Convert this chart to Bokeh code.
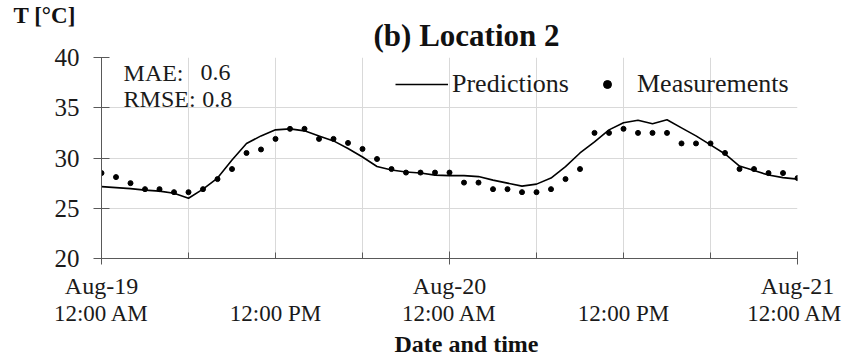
from bokeh.plotting import figure
from bokeh.models import Range1d, FixedTicker, LinearAxis, Legend, LegendItem, Label, Title
from bokeh.embed import file_html
from bokeh.resources import INLINE

hours = list(range(49))
measured = [28.5, 28.1, 27.5, 26.9, 26.9, 26.6, 26.6, 26.9, 27.9, 28.9,
            30.5, 30.85, 31.9, 32.9, 32.9, 31.9, 31.9, 31.5, 30.9, 29.9,
            28.9, 28.55, 28.55, 28.55, 28.55, 27.55, 27.55, 26.9, 26.9, 26.6,
            26.6, 26.9, 27.9, 28.9, 32.5, 32.5, 32.9, 32.5, 32.5, 32.5,
            31.45, 31.45, 31.45, 30.5, 28.9, 28.9, 28.5, 28.5, 28.0]
predicted = [27.15, 27.05, 26.95, 26.8, 26.7, 26.5, 26.0, 26.9, 28.0, 29.8,
             31.45, 32.2, 32.8, 32.9, 32.7, 32.2, 31.7, 30.95, 30.1, 29.15,
             28.8, 28.6, 28.5, 28.3, 28.25, 28.25, 28.15, 27.8, 27.5, 27.2,
             27.4, 28.0, 29.15, 30.5, 31.6, 32.8, 33.5, 33.75, 33.4, 33.8,
             33.0, 32.2, 31.3, 30.4, 29.2, 28.75, 28.3, 28.05, 27.9]

date_ticks = [0, 24, 48]
date_labels = ["Aug-19", "Aug-20", "Aug-21"]
time_ticks = [0, 12, 24, 36, 48]
time_labels = ["12:00 AM", "12:00 PM", "12:00 AM", "12:00 PM", "12:00 AM"]
grid_ticks = [0, 6, 12, 18, 24, 30, 36, 42, 48]
minor_ticks = [6, 12, 18, 30, 36, 42]
y_ticks = [20, 25, 30, 35, 40]
unit_label = "T [°C]"

FONT = "Liberation Serif"
AXIS_COLOR = "#595959"
GRID_COLOR = "#d9d9d9"
TEXT_COLOR = "#1a1a1a"

p = figure(width=842, height=356, output_backend="svg", toolbar_location=None,
           x_range=Range1d(0, 48), y_range=Range1d(20, 40),
           min_border_left=101, min_border_right=45, min_border_top=57, min_border_bottom=97)
p.outline_line_color = None
p.background_fill_color = "white"
p.border_fill_color = "white"

# outermost title: the unit of the y axis (top-left)
p.title.text = unit_label
p.title.text_font = FONT
p.title.text_font_size = "23px"
p.title.text_font_style = "bold"
p.title.text_color = "#111111"
p.title.align = "left"
p.title.offset = -88
p.title.vertical_align = "bottom"
p.title.standoff = -27

# main title, closer to the frame
p.add_layout(Title(text="(b) Location 2", text_font=FONT, text_font_size="31px",
                   text_font_style="bold", text_color="#111111",
                   align="left", offset=272, vertical_align="top", standoff=6), "above")

# grids
p.xgrid.ticker = FixedTicker(ticks=grid_ticks)
p.ygrid.ticker = FixedTicker(ticks=y_ticks)
p.xgrid.grid_line_color = GRID_COLOR
p.ygrid.grid_line_color = GRID_COLOR

# y axis
ya = p.yaxis[0]
ya.ticker = FixedTicker(ticks=y_ticks)
ya.axis_line_color = AXIS_COLOR
ya.major_tick_line_color = AXIS_COLOR
ya.major_tick_in = 8
ya.major_tick_out = 8
ya.minor_tick_line_color = None
ya.major_label_text_font = FONT
ya.major_label_text_font_size = "25px"
ya.major_label_text_color = TEXT_COLOR
ya.major_label_standoff = 14

# x axis (dates)
xa = p.xaxis[0]
xa.ticker = FixedTicker(ticks=date_ticks, minor_ticks=minor_ticks)
xa.major_label_overrides = {t: l for t, l in zip(date_ticks, date_labels)}
xa.axis_line_color = AXIS_COLOR
xa.major_tick_line_color = AXIS_COLOR
xa.minor_tick_line_color = AXIS_COLOR
xa.major_tick_in = 7
xa.major_tick_out = 6
xa.minor_tick_in = 6
xa.minor_tick_out = 0
xa.major_label_text_font = FONT
xa.major_label_text_font_size = "24px"
xa.major_label_text_color = TEXT_COLOR
xa.major_label_standoff = 8

# x axis (times)
xa2 = LinearAxis(ticker=FixedTicker(ticks=time_ticks),
                 major_label_overrides={t: l for t, l in zip(time_ticks, time_labels)},
                 axis_line_color=None, major_tick_line_color=None, minor_tick_line_color=None,
                 major_tick_in=0, major_tick_out=0,
                 major_label_text_font=FONT, major_label_text_font_size="23px",
                 major_label_text_color=TEXT_COLOR, major_label_standoff=-1)
p.add_layout(xa2, "below")
p.add_layout(Title(text="Date and time", text_font=FONT, text_font_size="24px",
                   text_font_style="bold", text_color="#111111",
                   align="left", offset=293, standoff=0), "below")

r_line = p.line(hours, predicted, line_color="black", line_width=1.6)
r_pts = p.scatter(hours, measured, size=5, color="black")

leg_common = dict(border_line_color=None, background_fill_alpha=0, padding=0, margin=0,
                  label_text_font=FONT, label_text_font_size="26px", label_text_color=TEXT_COLOR)
leg1 = Legend(items=[LegendItem(label="Predictions", renderers=[r_line])],
              location=(294, 159), glyph_width=53, label_standoff=4, **leg_common)
leg2 = Legend(items=[LegendItem(label="Measurements", renderers=[r_pts])],
              location=(496, 159), glyph_width=20, label_standoff=20, **leg_common)
p.add_layout(leg1)
p.add_layout(leg2)

lab_style = dict(text_font=FONT, text_font_size="24px", text_color=TEXT_COLOR, text_baseline="middle")
p.add_layout(Label(x=1.52, y=38.5, text="MAE:", **lab_style))
p.add_layout(Label(x=6.83, y=38.5, text="0.6", **lab_style))
p.add_layout(Label(x=1.52, y=35.84, text="RMSE:", **lab_style))
p.add_layout(Label(x=6.95, y=35.84, text="0.8", **lab_style))

open("out.html", "w").write(file_html(p, INLINE))
